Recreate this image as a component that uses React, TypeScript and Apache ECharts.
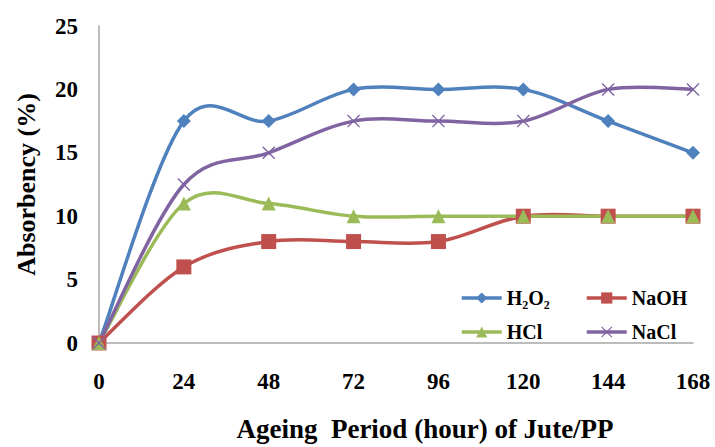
import React, { useEffect, useRef } from "react";
import * as echarts from "echarts";

const hours = ["0", "24", "48", "72", "96", "120", "144", "168"];
const h2o2 = [0, 17.5, 17.5, 20, 20, 20, 17.5, 15];
const naoh = [0, 6, 8, 8, 8, 10, 10, 10];
const hcl = [0, 11, 11, 10, 10, 10, 10, 10];
const nacl = [0, 12.5, 15, 17.5, 17.5, 17.5, 20, 20];
const yTicks = [0, 5, 10, 15, 20, 25];

const FONT = "'Liberation Serif', 'Times New Roman', serif";
const X_SYMBOL =
  "path://M0,1.5L1.5,0L10,8.5L18.5,0L20,1.5L11.5,10L20,18.5L18.5,20L10,11.5L1.5,20L0,18.5L8.5,10Z";

type S = { name: string; data: number[]; color: string; symbol: string; size: number };
const SERIES: S[] = [
  { name: "H₂O₂", data: h2o2, color: "#4F81BD", symbol: "diamond", size: 14 },
  { name: "NaOH", data: naoh, color: "#C0504D", symbol: "rect", size: 15 },
  { name: "HCl", data: hcl, color: "#9BBB59", symbol: "triangle", size: 14 },
  { name: "NaCl", data: nacl, color: "#8064A2", symbol: X_SYMBOL, size: 13 },
];

function curveSeries(s: S) {
  return {
    name: s.name + " curve",
    type: "custom",
    silent: true,
    z: 1,
    data: s.data.map((v, i) => [i, v]),
    renderItem: (params: any, api: any) => {
      if (params.dataIndex !== 0) return null;
      const pts = s.data.map((v, i) => api.coord([i, v]));
      let d = `M${pts[0][0]},${pts[0][1]}`;
      for (let i = 0; i < pts.length - 1; i++) {
        const p0 = pts[Math.max(0, i - 1)];
        const p1 = pts[i];
        const p2 = pts[i + 1];
        const p3 = pts[Math.min(pts.length - 1, i + 2)];
        const c1x = p1[0] + (p2[0] - p0[0]) / 6;
        const c1y = p1[1] + (p2[1] - p0[1]) / 6;
        const c2x = p2[0] - (p3[0] - p1[0]) / 6;
        const c2y = p2[1] - (p3[1] - p1[1]) / 6;
        d += ` C${c1x},${c1y} ${c2x},${c2y} ${p2[0]},${p2[1]}`;
      }
      return {
        type: "path",
        shape: { pathData: d },
        style: { fill: "none", stroke: s.color, lineWidth: 3.5 },
      };
    },
  };
}

export default function App() {
  const ref = useRef<HTMLDivElement>(null);
  useEffect(() => {
    if (!ref.current) return;
    document.body.style.overflow = "hidden";
    const chart = echarts.init(ref.current, undefined, { renderer: "svg" });
    const legendText = { fontFamily: FONT, fontWeight: "bold", fontSize: 20, color: "#000" };
    const legendCommon = {
      orient: "vertical",
      top: 283,
      itemWidth: 40,
      itemHeight: 14,
      itemGap: 14,
      itemTextGap: 5,
      textStyle: legendText,
      lineStyle: { width: 3.5, opacity: 1 },
    };
    chart.setOption({
      animation: false,
      backgroundColor: "#fff",
      textStyle: { fontFamily: FONT },
      grid: { left: 99, right: 22, top: 26, bottom: 98 },
      legend: [
        { ...legendCommon, data: ["H₂O₂", "HCl"], left: 455 },
        { ...legendCommon, data: ["NaOH", "NaCl"], left: 580 },
      ],
      xAxis: {
        type: "category",
        data: hours,
        boundaryGap: false,
        name: "Ageing  Period (hour) of Jute/PP",
        nameLocation: "middle",
        nameGap: 72,
        nameTextStyle: { fontFamily: FONT, fontWeight: "bold", fontSize: 27, color: "#000", padding: [0, 0, 0, 58] },
        axisLine: { lineStyle: { color: "#a6a6a6", width: 1.5 } },
        axisTick: { show: false },
        axisLabel: { margin: 27, fontFamily: FONT, fontWeight: "bold", fontSize: 23, color: "#000" },
        splitLine: { show: false },
      },
      yAxis: {
        type: "value",
        min: yTicks[0],
        max: yTicks[yTicks.length - 1],
        interval: 5,
        name: "Absorbency (%)",
        nameLocation: "middle",
        nameGap: 60,
        nameTextStyle: { fontFamily: FONT, fontWeight: "bold", fontSize: 26, color: "#000" },
        axisLine: { show: true, lineStyle: { color: "#a6a6a6", width: 1.5 } },
        axisTick: { show: false },
        axisLabel: { margin: 21, fontFamily: FONT, fontWeight: "bold", fontSize: 23, color: "#000" },
        splitLine: { show: false },
      },
      series: [
        ...SERIES.map(curveSeries),
        ...SERIES.map((s) => ({
          name: s.name,
          type: "line",
          z: 3,
          data: s.data,
          symbol: s.symbol,
          symbolSize: s.size,
          showAllSymbol: true,
          lineStyle: { width: 3.5, color: s.color, opacity: 0 },
          itemStyle: { color: s.color, opacity: 1 },
        })),
      ],
    });
    return () => chart.dispose();
  }, []);
  return (
    <div
      style={{ position: "fixed", left: 0, top: 0, width: 715, height: 447, overflow: "hidden" }}
    >
      <div ref={ref} style={{ width: 715, height: 447, overflow: "hidden" }} />
    </div>
  );
}
